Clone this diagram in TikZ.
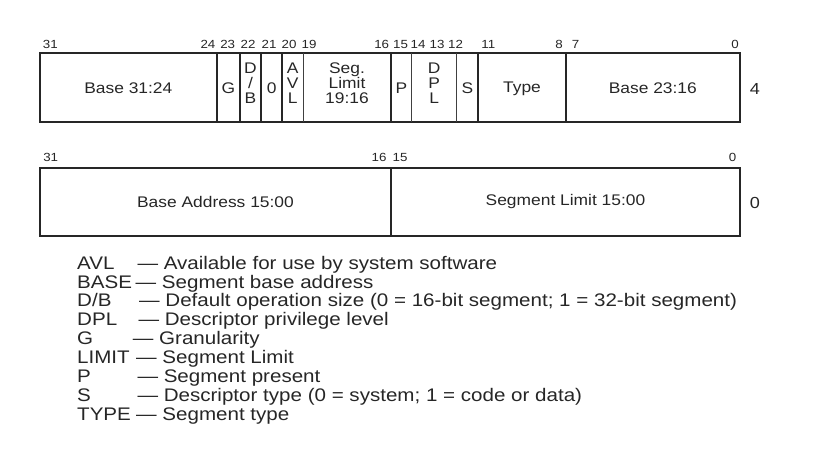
\documentclass[tikz,border=0pt]{standalone}
\usepackage{fontspec}
\setmainfont[FakeStretch=1.13]{Liberation Sans}

\begin{document}
\begin{tikzpicture}[x=1pt,y=-1pt,
		frame/.style = {line width=2.2pt,draw=black!85},
		thin/.style = {line width=0.9pt,draw=black!75},
		bit/.style = {font=\fontsize{11.8}{13}\selectfont,inner sep=0pt},
		field/.style = {font=\fontsize{15.4}{15}\selectfont,align=center,inner sep=0pt},
		wordno/.style = {font=\fontsize{16}{17}\selectfont,inner sep=0pt},
		legend/.style = {font=\fontsize{18.2}{19}\selectfont,anchor=base west,inner sep=0pt},
		text=black!85]
		\useasboundingbox (0,0) rectangle (817,461);
		% word 4
		\draw[frame] (40,52.7) rectangle (740,121.7);
		\foreach \x in {216.7,240,261,282.3,391,478.3,565.7}
			\draw[frame] (\x,52.7) -- (\x,121.7);
		\foreach \x in {303.3,411.7,456.7}
			\draw[thin] (\x,52.7) -- (\x,121.7);
		\foreach \n/\x in {31/50.3,24/208,23/227.7,22/248,21/269,20/289,19/309,
				16/381.7,15/400.5,14/418,13/437,12/455.5,11/488.3,8/559,7/575.7,0/735}
			\node[bit] (hi\n) at (\x,44) {\n};
		\node[field] (base3124)  at (128.3,88.5) {Base 31:24};
		\node[field] (g)         at (228.3,88.5) {G};
		\node[field] (db)        at (250.5,83)   {D\\/\\B};
		\node[field] (zero)      at (271.7,88.5) {0};
		\node[field] (avl)       at (292.8,83)   {A\\V\\L};
		\node[field] (limit1916) at (347,83)     {Seg.\\Limit\\19:16};
		\node[field] (p)         at (401.3,88.5) {P};
		\node[field] (dpl)       at (434.2,83)   {D\\P\\L};
		\node[field] (s)         at (467.5,88.5) {S};
		\node[field] (type)      at (522,88.5)   {Type};
		\node[field] (base2316)  at (652.8,88.5) {Base 23:16};
		\node[wordno] (word4) at (755,89) {4};
		% word 0
		\draw[frame] (40,168.3) rectangle (740,236);
		\draw[frame] (391,168.3) -- (391,236);
		\foreach \n/\x in {31/50.7,16/379,15/400,0/732.7}
			\node[bit] (lo\n) at (\x,157.5) {\n};
		\node[field] (base1500)  at (215.5,202) {Base Address 15:00};
		\node[field] (limit1500) at (565.5,202) {Segment Limit 15:00};
		\node[wordno] (word0) at (755,203) {0};
		% legend
		\foreach \k/\dx/\d [count=\i] in {
				AVL/137.3/Available for use by system software,
				BASE/135.5/Segment base address,
				{D/B}/139/Default operation size (0 = 16-bit segment; 1 = 32-bit segment),
				DPL/138.3/Descriptor privilege level,
				G/132.7/Granularity,
				LIMIT/136/Segment Limit,
				P/137.3/Segment present,
				S/137.3/Descriptor type (0 = system; 1 = code or data),
				TYPE/136/Segment type} {
			\node[legend] (key\i)  at (77,250.1+18.95*\i) {\k};
			\node[legend] (desc\i) at (\dx,250.1+18.95*\i) {— \d};
		}
\end{tikzpicture}
\end{document}
